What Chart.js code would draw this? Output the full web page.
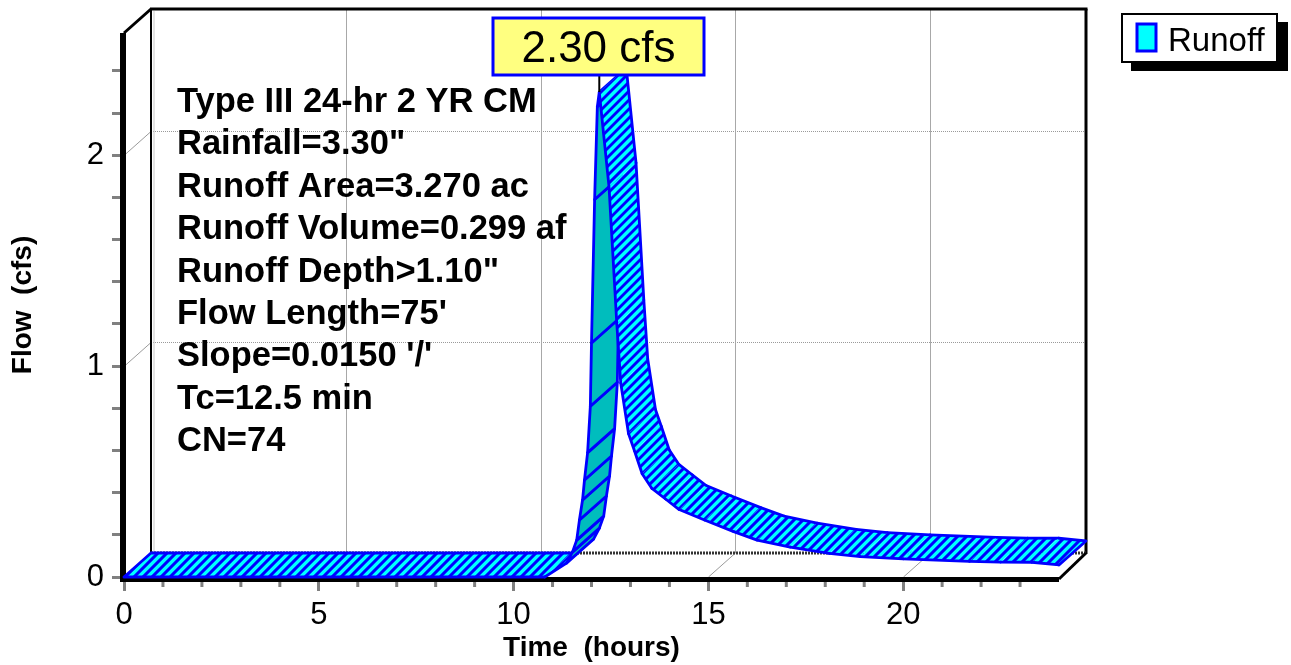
<!DOCTYPE html>
<html><head><meta charset="utf-8">
<script src="https://cdn.jsdelivr.net/npm/chart.js@4"></script>
<style>html,body{margin:0;padding:0;background:#fff;}canvas{display:block;}</style>
</head><body>
<canvas id="c" width="1291" height="665"></canvas>
<script>
// ---- data ----
const times = [0, 10.8, 11.36, 11.51, 11.62, 11.69, 11.77, 11.82, 11.9, 11.97, 12.0, 12.08, 12.15, 12.2,
  12.45, 12.65, 12.75, 12.95, 13.1, 13.3, 13.55, 13.9, 14.25, 14.9, 15.65, 16.25, 17.1, 18.1, 18.9,
  20.0, 21.7, 22.5, 23.3, 24.0];
const flows = [0, 0, 0.066, 0.118, 0.175, 0.27, 0.365, 0.46, 0.59, 0.81, 1.11, 1.79, 2.23, 2.30,
  1.85, 1.20, 0.92, 0.68, 0.60, 0.49, 0.42, 0.37, 0.32, 0.27, 0.215, 0.175, 0.142, 0.112, 0.097,
  0.086, 0.074, 0.071, 0.070, 0.057];
const xMajorTicks = [0, 5, 10, 15, 20];
const yMajorTicks = [0, 1, 2];
const seriesName = "Runoff";
const peakUnit = "cfs";
const xTitle = "Time  (hours)";
const yTitle = "Flow  (cfs)";
const infoLines = ["Type III 24-hr 2 YR CM", "Rainfall=3.30\"", "Runoff Area=3.270 ac",
  "Runoff Volume=0.299 af", "Runoff Depth>1.10\"", "Flow Length=75'", "Slope=0.0150 '/'",
  "Tc=12.5 min", "CN=74"];

const FONT = "'Liberation Sans', Arial, Helvetica, sans-serif";
const DX = 27, DY = -24;
const CYAN = '#00FFFF', BLUE = '#0000FF', DARK = '#00BDBD';

function polyPath(ctx, pts) {
  ctx.beginPath();
  pts.forEach((p, i) => i ? ctx.lineTo(p.x, p.y) : ctx.moveTo(p.x, p.y));
  ctx.closePath();
}
function hatch(ctx, pts, P) {
  ctx.save();
  polyPath(ctx, pts); ctx.clip();
  let minS = Infinity, maxS = -Infinity, minX = Infinity, maxX = -Infinity;
  pts.forEach(p => { minS = Math.min(minS, p.x + p.y); maxS = Math.max(maxS, p.x + p.y);
    minX = Math.min(minX, p.x); maxX = Math.max(maxX, p.x); });
  ctx.beginPath();
  for (let c = Math.floor(minS / P) * P; c <= maxS + P; c += P) {
    ctx.moveTo(minX - 4, c - minX + 4); ctx.lineTo(maxX + 4, c - maxX - 4);
  }
  ctx.strokeStyle = BLUE; ctx.lineWidth = 3; ctx.stroke();
  ctx.restore();
}
function line(ctx, x1, y1, x2, y2, color, w, dash) {
  ctx.beginPath(); ctx.moveTo(x1, y1); ctx.lineTo(x2, y2);
  ctx.strokeStyle = color; ctx.lineWidth = w; ctx.setLineDash(dash || []); ctx.stroke(); ctx.setLineDash([]);
}

const scene = {
  id: 'scene',
  beforeDatasetsDraw(chart) {
    const { ctx, chartArea: a, scales: { x, y } } = chart;
    ctx.save();
    // back-plane grid
    yMajorTicks.filter(v => v > 0).forEach(v => {
      const py = Math.round(y.getPixelForValue(v)) + 0.5;
      line(ctx, a.left + DX, py + DY, a.right + DX, py + DY, '#9a9a9a', 1, [1, 1]);
      line(ctx, a.left, py, a.left + DX, py + DY, '#9a9a9a', 1);
    });
    xMajorTicks.filter(v => v > 0).forEach(v => {
      const px = Math.round(x.getPixelForValue(v)) + 0.5;
      line(ctx, px + DX, a.top + DY, px + DX, a.bottom + DY, '#a8a8a8', 1);
      line(ctx, px, a.bottom, px + DX, a.bottom + DY, '#9a9a9a', 1);
    });
    // minor x ticks
    for (let v = 1; v < 24; v++) {
      if (xMajorTicks.includes(v)) continue;
      const px = x.getPixelForValue(v);
      line(ctx, px, a.bottom + 3, px, a.bottom + 10, '#808080', 3);
    }
    // back frame
    line(ctx, a.left + DX, a.top + DY, a.left + DX, a.bottom + DY, '#000', 2);
    line(ctx, a.left + DX + 3, a.top + DY + 2, a.left + DX + 3, a.bottom + DY, '#c8c8c8', 1);
    line(ctx, a.left + DX - 1, a.top + DY, a.right + DX + 1.5, a.top + DY, '#000', 3);
    line(ctx, a.right + DX, a.top + DY, a.right + DX, a.bottom + DY + 1, '#000', 3);
    line(ctx, a.left + DX, a.bottom + DY, a.right + DX, a.bottom + DY, '#333', 3, [2, 1]);
    line(ctx, a.left, a.top, a.left + DX, a.top + DY, '#000', 3);
    line(ctx, a.right, a.bottom + 2, a.right + DX, a.bottom + DY, '#000', 3);
    // front axes
    line(ctx, a.left - 1, a.top, a.left - 1, a.bottom + 5, '#000', 6);
    line(ctx, a.left - 4, a.bottom + 2.5, a.right, a.bottom + 2.5, '#000', 5);

    // ribbon
    const F = chart.getDatasetMeta(0).data.map(p => ({ x: p.x, y: p.y }));
    const B = F.map(p => ({ x: p.x + DX, y: p.y + DY }));
    ctx.lineJoin = 'round'; ctx.lineCap = 'round';
    for (let i = 0; i < F.length - 1; i++) {
      const q = [F[i], F[i + 1], B[i + 1], B[i]];
      const sx = F[i + 1].x - F[i].x, sy = F[i + 1].y - F[i].y;
      const dark = (sx * DY - sy * DX) > 0;
      polyPath(ctx, q);
      ctx.fillStyle = dark ? DARK : CYAN; ctx.fill();
      if (!dark) hatch(ctx, q, 9);
      ctx.strokeStyle = BLUE; ctx.lineWidth = 2.8;
      ctx.beginPath();
      ctx.moveTo(F[i].x, F[i].y); ctx.lineTo(F[i + 1].x, F[i + 1].y);
      ctx.moveTo(B[i].x, B[i].y); ctx.lineTo(B[i + 1].x, B[i + 1].y);
      if (dark || i === 0) { ctx.moveTo(F[i].x, F[i].y); ctx.lineTo(B[i].x, B[i].y); }
      if (dark || i === F.length - 2) { ctx.moveTo(F[i + 1].x, F[i + 1].y); ctx.lineTo(B[i + 1].x, B[i + 1].y); }
      ctx.stroke();
    }
    ctx.restore();
  },
  afterDatasetsDraw(chart) {
    const { ctx } = chart;
    ctx.save();
    // info text
    ctx.fillStyle = '#000'; ctx.font = 'bold 34.5px ' + FONT;
    ctx.textAlign = 'left'; ctx.textBaseline = 'alphabetic';
    infoLines.forEach((t, i) => ctx.fillText(t, 177, 112 + i * 42.4));
    // peak label
    let k = 0; flows.forEach((v, i) => { if (v > flows[k]) k = i; });
    const pk = chart.getDatasetMeta(0).data[k];
    const bw = 211, bh = 57, bx = Math.round(pk.x) - 106, by = 18;
    line(ctx, pk.x, by + bh, pk.x, pk.y, '#000', 2);
    ctx.fillStyle = '#FFFF80'; ctx.fillRect(bx, by, bw, bh);
    ctx.strokeStyle = BLUE; ctx.lineWidth = 3; ctx.strokeRect(bx, by, bw, bh);
    ctx.fillStyle = '#000'; ctx.font = '44px ' + FONT; ctx.textAlign = 'center';
    ctx.fillText(flows[k].toFixed(2) + ' ' + peakUnit, bx + bw / 2, 62);
    // legend
    ctx.fillStyle = '#000'; ctx.fillRect(1131, 22, 157, 49);
    ctx.fillStyle = '#fff'; ctx.fillRect(1121, 13, 157, 50);
    ctx.strokeStyle = '#000'; ctx.lineWidth = 2; ctx.strokeRect(1122, 14, 155, 48);
    ctx.fillStyle = CYAN; ctx.fillRect(1137, 24, 19, 27);
    ctx.strokeStyle = BLUE; ctx.lineWidth = 3; ctx.strokeRect(1137, 24, 19, 27);
    ctx.fillStyle = '#000'; ctx.font = '33px ' + FONT; ctx.textAlign = 'left';
    ctx.fillText(seriesName, 1168, 51);
    ctx.restore();
  }
};

new Chart(document.getElementById('c'), {
  type: 'line',
  data: { datasets: [{ label: seriesName, data: times.map((t, i) => ({ x: t, y: flows[i] })),
    showLine: false, pointRadius: 0, borderColor: BLUE, backgroundColor: CYAN }] },
  options: {
    responsive: false, animation: false, devicePixelRatio: 1,
    layout: { padding: { left: 0, top: 33, right: 232, bottom: 0 } },
    plugins: { legend: { display: false }, tooltip: { enabled: false } },
    scales: {
      x: {
        type: 'linear', min: 0, max: 24, position: 'bottom',
        afterFit: s => { s.height = 88; },
        afterBuildTicks: s => { s.ticks = xMajorTicks.map(v => ({ value: v })); },
        ticks: { font: { family: FONT, size: 31 }, color: '#000', padding: 6, maxRotation: 0,
          callback: v => String(v) },
        grid: { drawOnChartArea: false, drawTicks: true, tickLength: 14, tickWidth: 3, tickColor: '#808080' },
        border: { display: false },
        title: { display: true, text: xTitle, color: '#000', font: { family: FONT, size: 28, weight: 'bold' },
          padding: { top: 0, bottom: 0 } }
      },
      y: {
        type: 'linear', min: 0, max: 2.58, position: 'left',
        afterFit: s => { s.width = 124; },
        afterBuildTicks: s => { const t = []; for (let i = 0; i <= 12; i++) t.push({ value: i / 5 }); s.ticks = t; },
        ticks: { font: { family: FONT, size: 31 }, color: '#000', padding: 8,
          callback: v => yMajorTicks.some(m => Math.abs(m - v) < 1e-6) ? String(Math.round(v)) : '' },
        grid: { drawOnChartArea: false, drawTicks: true, tickLength: 12, tickWidth: 3, tickColor: '#808080' },
        border: { display: false },
        title: { display: true, text: yTitle, color: '#000', font: { family: FONT, size: 28, weight: 'bold' },
          padding: { top: 6, bottom: 0 } }
      }
    }
  },
  plugins: [scene]
});
</script>
</body></html>
